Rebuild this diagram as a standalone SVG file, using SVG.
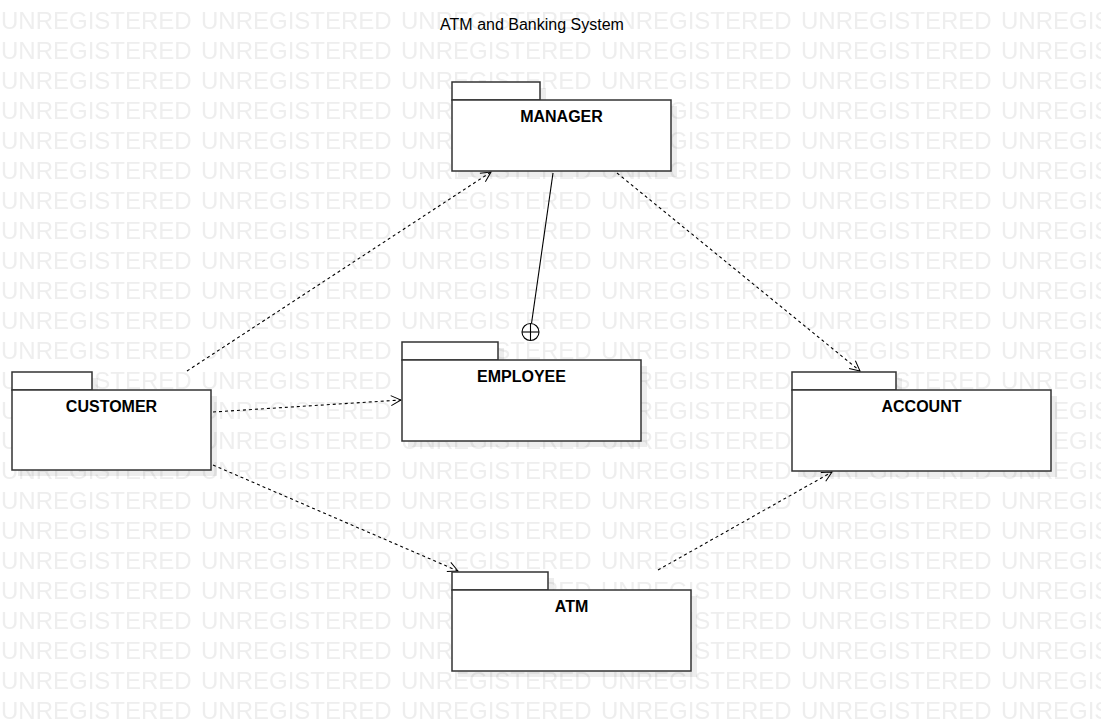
<svg xmlns="http://www.w3.org/2000/svg" width="1101" height="721" viewBox="0 0 1101 721">
<defs>
<style>
.wm{font-family:"Liberation Sans",Arial,sans-serif;font-size:24px;fill:#eeeeee}
.title{font-family:"Liberation Sans",Arial,sans-serif;font-size:16px;fill:#000}
.lbl{font-family:"Liberation Sans",Arial,sans-serif;font-size:16px;font-weight:bold;fill:#000;text-anchor:middle}
.box{fill:#fff;stroke:#333;stroke-width:1.5}
.sh{fill:#000;opacity:0.07}
.dep{fill:none;stroke:#000;stroke-width:1.1;stroke-dasharray:3 3}
.solid{fill:none;stroke:#000;stroke-width:1.1}
</style>
<pattern id="wmp" x="0" y="0" width="200" height="30" patternUnits="userSpaceOnUse">
<text class="wm" x="1" y="29">UNREGISTERED</text>
</pattern>
<marker id="open" viewBox="0 0 12 12" refX="11" refY="6" markerWidth="12" markerHeight="12" markerUnits="userSpaceOnUse" orient="auto">
<path d="M1,1 L11,6 L1,11" fill="none" stroke="#000" stroke-width="1"/>
</marker>
</defs>
<rect width="1101" height="721" fill="#fff"/>
<rect width="1101" height="721" fill="url(#wmp)"/>
<text class="title" x="532" y="30" text-anchor="middle">ATM and Banking System</text>

<g id="connectors">
<line class="dep" x1="187" y1="371" x2="491" y2="172" marker-end="url(#open)"/>
<line class="solid" x1="553" y1="173" x2="531.5" y2="323.5"/>
<g>
<circle cx="530.5" cy="332" r="8.5" fill="#fff" stroke="#000" stroke-width="1.1"/>
<line class="solid" x1="522" y1="332" x2="539" y2="332"/>
<line class="solid" x1="530.5" y1="323.5" x2="530.5" y2="340.5"/>
</g>
<line class="dep" x1="617" y1="173" x2="860" y2="371" marker-end="url(#open)"/>
<line class="dep" x1="213" y1="412" x2="401" y2="400" marker-end="url(#open)"/>
<line class="dep" x1="213" y1="465" x2="458" y2="571" marker-end="url(#open)"/>
<line class="dep" x1="658" y1="570" x2="832" y2="472" marker-end="url(#open)"/>
</g>

<g id="manager">
<rect class="sh" x="458" y="88" width="88" height="18"/>
<rect class="sh" x="458" y="106" width="219" height="71"/>
<rect class="box" x="452" y="82" width="88" height="18"/>
<rect class="box" x="452" y="100" width="219" height="71"/>
<text class="lbl" x="561.5" y="122">MANAGER</text>
</g>
<g id="employee">
<rect class="sh" x="408" y="348" width="96" height="18"/>
<rect class="sh" x="408" y="366" width="239" height="81"/>
<rect class="box" x="402" y="342" width="96" height="18"/>
<rect class="box" x="402" y="360" width="239" height="81"/>
<text class="lbl" x="521.5" y="382">EMPLOYEE</text>
</g>
<g id="customer">
<rect class="sh" x="18" y="378" width="80" height="18"/>
<rect class="sh" x="18" y="396" width="199" height="80"/>
<rect class="box" x="12" y="372" width="80" height="18"/>
<rect class="box" x="12" y="390" width="199" height="80"/>
<text class="lbl" x="111.5" y="412">CUSTOMER</text>
</g>
<g id="account">
<rect class="sh" x="798" y="378" width="104" height="18"/>
<rect class="sh" x="798" y="396" width="259" height="81"/>
<rect class="box" x="792" y="372" width="104" height="18"/>
<rect class="box" x="792" y="390" width="259" height="81"/>
<text class="lbl" x="921.5" y="412">ACCOUNT</text>
</g>
<g id="atm">
<rect class="sh" x="458" y="578" width="96" height="18"/>
<rect class="sh" x="458" y="596" width="239" height="81"/>
<rect class="box" x="452" y="572" width="96" height="18"/>
<rect class="box" x="452" y="590" width="239" height="81"/>
<text class="lbl" x="571.5" y="612">ATM</text>
</g>
</svg>
